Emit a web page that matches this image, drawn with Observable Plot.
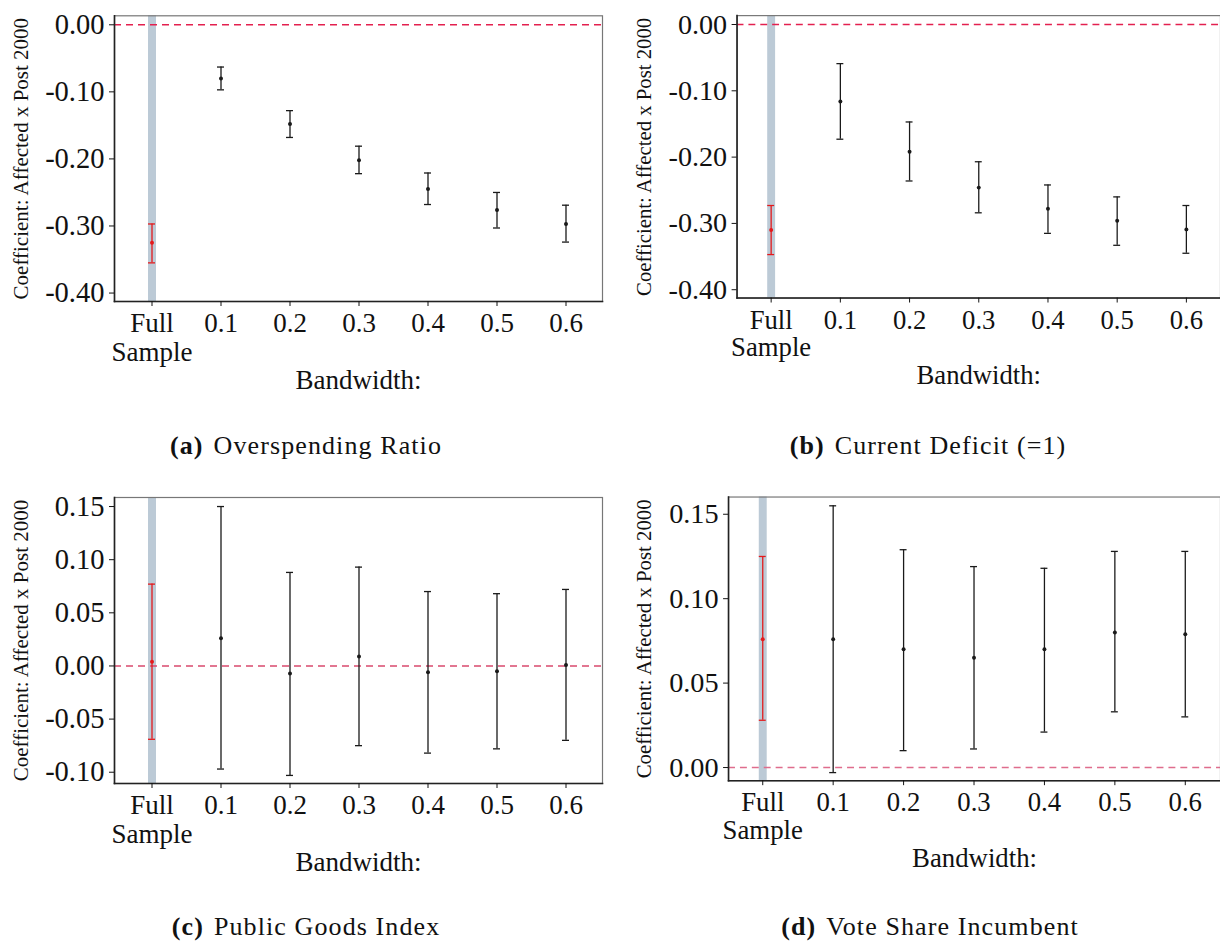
<!DOCTYPE html>
<html>
<head>
<meta charset="utf-8">
<script src="https://cdn.jsdelivr.net/npm/d3@7"></script>
<script src="https://cdn.jsdelivr.net/npm/@observablehq/plot@0.6"></script>
<style>
  html, body { margin: 0; padding: 0; background: #fff; overflow: hidden; width: 1220px; height: 942px; }
  #root { position: relative; width: 1220px; height: 942px; }
  .panel { position: absolute; }
  .caption { position: absolute; width: 600px; text-align: center; font-family: "Liberation Serif", "Times New Roman", serif; font-size: 26px; line-height: 26px; letter-spacing: 1.1px; color: #111; white-space: nowrap; }
  .caption b { font-weight: bold; margin-right: 10px; }
</style>
</head>
<body>
<div id="root"></div>
<script>
// ---------- data ----------
const bandwidths = ["Full\nSample", "0.1", "0.2", "0.3", "0.4", "0.5", "0.6"];
const xAxisTitle = "Bandwidth:";
const yAxisTitle = "Coefficient: Affected x Post 2000";

// (a) Overspending Ratio
const overspendCoef = [-0.325, -0.080, -0.148, -0.202, -0.245, -0.276, -0.297];
const overspendLo   = [-0.355, -0.097, -0.168, -0.222, -0.268, -0.303, -0.324];
const overspendHi   = [-0.297, -0.063, -0.128, -0.181, -0.221, -0.250, -0.269];
const overspendTicks = [0, -0.1, -0.2, -0.3, -0.4];

// (b) Current Deficit (=1)
const deficitCoef = [-0.310, -0.116, -0.192, -0.246, -0.278, -0.296, -0.309];
const deficitLo   = [-0.347, -0.173, -0.236, -0.284, -0.315, -0.333, -0.345];
const deficitHi   = [-0.273, -0.059, -0.147, -0.207, -0.242, -0.260, -0.273];
const deficitTicks = [0, -0.1, -0.2, -0.3, -0.4];

// (c) Public Goods Index
const goodsCoef = [0.004, 0.026, -0.007, 0.009, -0.006, -0.005, 0.001];
const goodsLo   = [-0.069, -0.097, -0.103, -0.075, -0.082, -0.078, -0.070];
const goodsHi   = [0.077, 0.150, 0.088, 0.093, 0.070, 0.068, 0.072];
const goodsTicks = [0.15, 0.10, 0.05, 0, -0.05, -0.10];

// (d) Vote Share Incumbent
const voteCoef = [0.076, 0.076, 0.070, 0.065, 0.070, 0.080, 0.079];
const voteLo   = [0.028, -0.003, 0.010, 0.011, 0.021, 0.033, 0.030];
const voteHi   = [0.125, 0.155, 0.129, 0.119, 0.118, 0.128, 0.128];
const voteTicks = [0.15, 0.10, 0.05, 0];

const captions = [
  ["(a)", "Overspending Ratio"],
  ["(b)", "Current Deficit (=1)"],
  ["(c)", "Public Goods Index"],
  ["(d)", "Vote Share Incumbent"]
];

// ---------- drawing ----------
const FONT = "'Liberation Serif', 'Times New Roman', serif";
const RED = "#e41a1c";
const BLACK = "#1a1a1a";
const BAND = "#bccad6";

function panel({coef, lo, hi, ticks, yDomain, left, top, width, height, marginLeft, marginTop, marginBottom, marginRight, zeroColor, labelDx}) {
  const rows = bandwidths.map((b, i) => ({b, coef: coef[i], lo: lo[i], hi: hi[i], c: i === 0 ? RED : BLACK}));
  const chart = Plot.plot({
    width, height, marginLeft, marginTop, marginBottom, marginRight,
    style: {fontFamily: FONT, background: "transparent", color: "#111", overflow: "visible"},
    x: {type: "band", domain: bandwidths, paddingInner: 0.9, paddingOuter: 0.44},
    y: {domain: yDomain},
    color: {type: "identity"},
    marks: [
      Plot.ruleX([bandwidths[0]], {stroke: BAND, strokeWidth: 8}),
      Plot.ruleY([0], {stroke: zeroColor, strokeDasharray: "7,5", strokeWidth: 1.4}),
      Plot.ruleX(rows, {x: "b", y1: "lo", y2: "hi", stroke: "c", strokeWidth: 1.3}),
      Plot.tickY(rows, {x: "b", y: "lo", stroke: "c", strokeWidth: 1.3}),
      Plot.tickY(rows, {x: "b", y: "hi", stroke: "c", strokeWidth: 1.3}),
      Plot.dot(rows, {x: "b", y: "coef", r: 2, fill: "c"}),
      Plot.frame({stroke: "#777", strokeWidth: 1.2}),
      Plot.frame({anchor: "left", stroke: "#222", strokeWidth: 1.6}),
      Plot.frame({anchor: "bottom", stroke: "#222", strokeWidth: 1.6}),
      Plot.axisY({ticks, tickFormat: d => d.toFixed(2), tickSize: 5, tickPadding: 5, fontSize: 28.5, label: null}),
      Plot.axisX({tickSize: 5, tickPadding: 6, fontSize: 27, lineHeight: 1.04, label: null}),
      Plot.text([xAxisTitle], {text: d => d, frameAnchor: "bottom", dy: 87, lineAnchor: "bottom", fontSize: 27}),
      Plot.text([yAxisTitle], {text: d => d, frameAnchor: "left", dx: labelDx, rotate: -90, textAnchor: "middle", lineAnchor: "middle", fontSize: 21})
    ]
  });
  const wrap = document.createElement("div");
  wrap.className = "panel";
  wrap.style.left = left + "px";
  wrap.style.top = top + "px";
  wrap.appendChild(chart);
  document.getElementById("root").appendChild(wrap);
}

panel({coef: overspendCoef, lo: overspendLo, hi: overspendHi, ticks: overspendTicks, yDomain: [-0.4126, 0.0134],
  left: 0, top: 0, width: 604, height: 400, marginLeft: 114, marginRight: 2, marginTop: 15.3, marginBottom: 99,
  zeroColor: "#e3204f", labelDx: -93});
panel({coef: deficitCoef, lo: deficitLo, hi: deficitHi, ticks: deficitTicks, yDomain: [-0.4126, 0.0134],
  left: 610, top: 0, width: 617, height: 400, marginLeft: 128, marginRight: 0, marginTop: 15.3, marginBottom: 99,
  zeroColor: "#e3204f", labelDx: -94});
panel({coef: goodsCoef, lo: goodsLo, hi: goodsHi, ticks: goodsTicks, yDomain: [-0.1106, 0.1585],
  left: 0, top: 440, width: 604, height: 440, marginLeft: 114, marginRight: 2, marginTop: 57, marginBottom: 97,
  zeroColor: "#d94a6e", labelDx: -93});
panel({coef: voteCoef, lo: voteLo, hi: voteHi, ticks: voteTicks, yDomain: [-0.0078, 0.1602],
  left: 610, top: 440, width: 615, height: 440, marginLeft: 119, marginRight: 0, marginTop: 57, marginBottom: 97,
  zeroColor: "#df6d8d", labelDx: -85});

const capPos = [[306, 433], [928, 433], [306, 914], [930, 914]];
captions.forEach(([tag, text], i) => {
  const d = document.createElement("div");
  d.className = "caption";
  d.style.left = (capPos[i][0] - 300) + "px";
  d.style.top = capPos[i][1] + "px";
  const b = document.createElement("b");
  b.textContent = tag;
  d.appendChild(b);
  d.appendChild(document.createTextNode(text));
  document.getElementById("root").appendChild(d);
});
</script>
</body>
</html>
